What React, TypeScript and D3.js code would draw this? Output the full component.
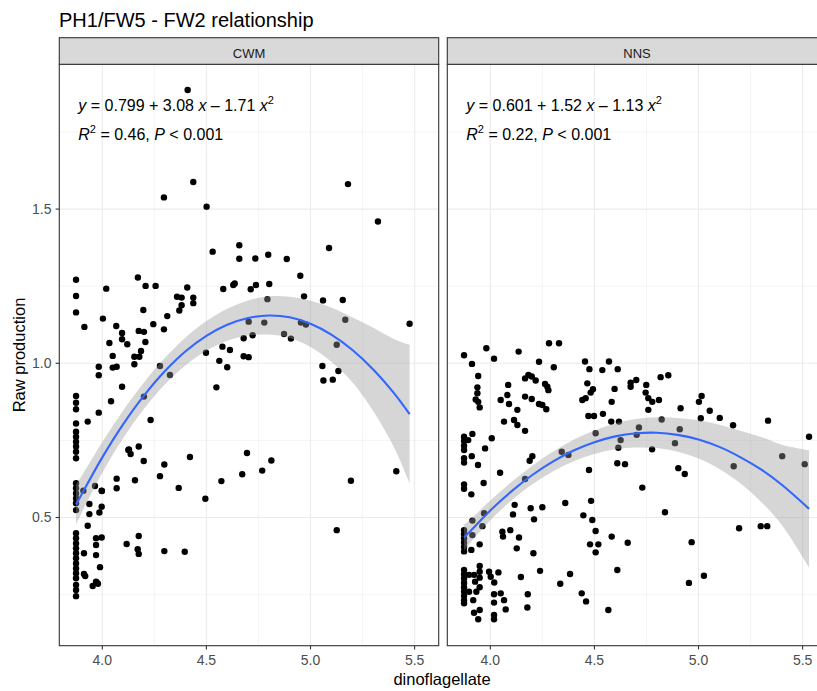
import React from "react";
import * as d3 from "d3";

const FONT = "'Liberation Sans', Arial, Helvetica, sans-serif";

const titleText = "PH1/FW5 - FW2 relationship";
const panelNames = ["CWM", "NNS"];
const xAxisTitle = "dinoflagellate";
const yAxisTitle = "Raw production";

const xDomain = [3.7935, 5.6157];
const yDomain = [0.0843, 1.9695];
const xMajorTicks = [4.0, 4.5, 5.0, 5.5];
const xMinorTicks = [4.25, 4.75, 5.25];
const yMajorTicks = [0.5, 1.0, 1.5];
const yMinorTicks = [0.25, 0.75, 1.25, 1.75];

const eqIntercept = ["0.799", "0.601"];
const eqLinear = ["3.08", "1.52"];
const eqQuad = ["1.71", "1.13"];
const eqR2 = ["0.46", "0.22"];
const eqP = ["0.001", "0.001"];

const minX = 3.874;
const cwmColumnY = [0.894, 0.872, 0.851, 0.805, 0.778, 0.762, 0.746, 0.73, 0.713, 0.692, 0.611, 0.595, 0.578, 0.562, 0.546, 0.524, 0.449, 0.433, 0.416, 0.4, 0.384, 0.368, 0.351, 0.335, 0.319, 0.303, 0.281, 0.265, 0.245];
const cwmPoints: [number, number][] = [
  [4.41, 1.886],
  [4.437, 1.588], [4.296, 1.538], [4.501, 1.508], [5.18, 1.581], [5.324, 1.46],
  [4.658, 1.383], [4.53, 1.362], [4.658, 1.339], [4.735, 1.34], [4.797, 1.352], [4.886, 1.338], [5.089, 1.374],
  [3.874, 1.271], [4.171, 1.278], [4.019, 1.242], [4.208, 1.251], [4.256, 1.251], [4.408, 1.246], [4.581, 1.241], [4.629, 1.254], [4.636, 1.259], [4.713, 1.24], [4.738, 1.254], [4.802, 1.257], [4.951, 1.284],
  [3.874, 1.218], [4.359, 1.216], [4.381, 1.213], [4.437, 1.213], [4.437, 1.195], [4.381, 1.188], [4.37, 1.171], [4.312, 1.153], [4.197, 1.173], [3.874, 1.165],
  [4.793, 1.208], [4.969, 1.217], [5.06, 1.204], [5.155, 1.205], [5.167, 1.141], [5.476, 1.128],
  [4.003, 1.145], [3.914, 1.118], [4.067, 1.121], [4.095, 1.098], [4.245, 1.127], [4.296, 1.11], [4.175, 1.105], [4.2, 1.102], [4.095, 1.078], [4.034, 1.066], [4.12, 1.062], [4.207, 1.069],
  [4.703, 1.135], [4.778, 1.132], [4.954, 1.132], [4.978, 1.126], [4.873, 1.095], [4.906, 1.08], [4.722, 1.091], [4.679, 1.081], [5.126, 1.06], [4.577, 1.054], [4.613, 1.043],
  [4.05, 1.024], [4.069, 0.989], [4.05, 0.986], [3.983, 0.989], [3.983, 0.961], [4.154, 1.021], [4.178, 1.021], [4.154, 0.997], [4.186, 1.04],
  [4.095, 0.924], [4.042, 0.877], [4.2, 0.892], [3.983, 0.84], [3.93, 0.811], [4.232, 0.816], [4.277, 0.991], [4.325, 0.962], [4.498, 1.034], [4.562, 1.008], [4.6, 0.987], [4.679, 1.023], [4.703, 1.02], [4.548, 0.922],
  [5.057, 0.991], [5.062, 0.944], [5.107, 0.947], [5.134, 0.975],
  [4.125, 0.719], [4.069, 0.626], [4.069, 0.595], [3.909, 0.587], [3.965, 0.602], [3.997, 0.587], [3.938, 0.544], [3.997, 0.535], [3.986, 0.516], [3.938, 0.511], [3.93, 0.473], [4.117, 0.414], [3.97, 0.433], [3.997, 0.435], [3.97, 0.411], [3.912, 0.384], [3.97, 0.378], [3.989, 0.339], [3.912, 0.317], [3.918, 0.31], [3.97, 0.292], [3.954, 0.278], [3.973, 0.289], [3.979, 0.285],
  [4.128, 0.721], [4.136, 0.706], [4.175, 0.73], [4.199, 0.683], [4.157, 0.621], [4.277, 0.634], [4.298, 0.672], [4.367, 0.596], [4.421, 0.696], [4.495, 0.561], [4.572, 0.618], [4.672, 0.64], [4.695, 0.709], [4.768, 0.652], [4.812, 0.685], [5.194, 0.619], [5.412, 0.65], [3.998, 0.586], [5.126, 0.459],
  [4.175, 0.44], [4.17, 0.397], [4.175, 0.382], [4.298, 0.391], [4.396, 0.389],
];

const nnsColumnY = [1.026, 0.762, 0.748, 0.733, 0.719, 0.692, 0.678, 0.607, 0.593, 0.459, 0.446, 0.432, 0.418, 0.404, 0.39, 0.33, 0.316, 0.302, 0.288, 0.274, 0.26, 0.246, 0.232, 0.222];
const nnsPoints: [number, number][] = [
  [3.912, 0.998], [3.981, 1.049], [4.018, 1.015], [4.136, 1.038], [4.234, 1.005], [4.282, 1.065], [4.33, 1.065], [4.305, 0.987], [4.455, 1.006], [4.57, 1.006], [4.476, 0.981], [4.538, 0.978], [4.612, 0.981],
  [3.942, 0.959], [3.938, 0.922], [3.938, 0.903], [3.93, 0.883], [3.949, 0.857], [3.942, 0.875],
  [4.086, 0.93], [4.082, 0.897], [4.05, 0.881], [4.09, 0.868], [4.066, 0.811], [4.114, 0.816], [4.13, 0.8], [4.13, 0.849], [4.167, 0.781],
  [4.167, 0.951], [4.183, 0.962], [4.218, 0.944], [4.199, 0.957], [4.167, 0.892], [4.199, 0.884], [4.234, 0.868], [4.269, 0.851], [4.25, 0.865], [4.263, 0.933], [4.279, 0.913], [4.274, 0.924],
  [4.442, 0.881], [4.458, 0.887], [4.482, 0.905], [4.493, 0.916], [4.466, 0.935], [4.471, 0.829], [4.498, 0.829], [4.541, 0.836], [4.583, 0.875], [4.597, 0.917], [4.581, 0.811], [4.618, 0.811],
  [4.674, 0.937], [4.701, 0.946], [4.674, 0.924], [4.749, 0.93], [4.746, 0.905], [4.759, 0.887], [4.778, 0.875], [4.81, 0.881], [4.759, 0.849], [4.818, 0.955], [4.855, 0.961],
  [4.714, 0.792], [4.703, 0.768], [4.823, 0.818], [4.914, 0.854], [4.91, 0.786], [4.887, 0.741], [5.002, 0.875], [5.015, 0.894], [5.054, 0.846], [5.011, 0.822], [5.102, 0.823], [5.166, 0.799], [5.334, 0.814], [5.531, 0.762], [5.402, 0.699], [5.51, 0.673], [5.169, 0.666], [4.903, 0.66], [4.934, 0.641], [4.777, 0.721], [4.626, 0.751], [4.615, 0.726], [4.61, 0.676], [4.647, 0.673], [4.506, 0.773], [4.474, 0.654], [4.343, 0.713], [4.375, 0.703], [4.189, 0.684], [4.202, 0.699], [4.167, 0.625], [4.047, 0.645], [4.007, 0.757], [3.975, 0.724], [3.914, 0.771], [3.894, 0.751],
  [3.911, 0.699], [3.941, 0.67], [3.909, 0.575], [3.968, 0.612], [4.484, 0.554], [4.447, 0.507], [4.49, 0.492], [4.36, 0.547], [4.117, 0.541], [4.109, 0.51], [4.194, 0.53], [4.25, 0.533], [4.21, 0.494], [4.839, 0.517], [4.73, 0.597], [5.195, 0.465], [5.299, 0.472], [5.33, 0.472],
  [3.97, 0.514], [3.914, 0.49], [3.962, 0.472], [3.914, 0.443], [3.909, 0.395], [3.949, 0.413], [4.058, 0.454], [4.061, 0.438], [4.096, 0.459], [4.138, 0.435], [4.127, 0.4], [4.207, 0.384], [4.506, 0.456], [4.583, 0.438], [4.479, 0.413], [4.519, 0.413], [4.506, 0.387], [4.66, 0.418], [4.967, 0.42],
  [4.61, 0.33], [4.383, 0.317], [4.336, 0.285], [4.239, 0.327], [4.147, 0.307], [4.039, 0.322], [3.994, 0.324], [4.002, 0.308], [4.019, 0.289], [4.05, 0.254], [4.018, 0.251], [4.066, 0.232], [4.018, 0.224], [4.074, 0.202], [4.018, 0.184], [4.018, 0.17], [4.18, 0.251], [4.178, 0.208], [4.439, 0.254], [4.46, 0.228], [4.567, 0.2], [4.954, 0.288], [5.026, 0.311],
  [3.922, 0.191], [3.942, 0.17], [3.949, 0.2], [3.918, 0.232], [3.949, 0.343], [3.949, 0.324], [3.949, 0.305], [3.949, 0.274], [3.922, 0.314], [3.927, 0.292], [3.933, 0.259], [3.898, 0.314], [3.898, 0.259],
];

// fitted quadratic curves with confidence bands
const cwmFitX = [3.874, 3.9, 4.0, 4.1, 4.2, 4.3, 4.4, 4.5, 4.6, 4.7, 4.8, 4.9, 5.0, 5.1, 5.2, 5.3, 5.4, 5.476];
const cwmFitY = [0.542, 0.574, 0.695, 0.802, 0.895, 0.974, 1.039, 1.089, 1.125, 1.147, 1.155, 1.149, 1.128, 1.093, 1.044, 0.981, 0.904, 0.835];
const cwmFitHalf = [0.065, 0.06, 0.05, 0.045, 0.043, 0.043, 0.045, 0.048, 0.052, 0.057, 0.062, 0.067, 0.075, 0.088, 0.105, 0.135, 0.175, 0.225];

const nnsFitX = [3.874, 3.9, 4.0, 4.1, 4.2, 4.3, 4.4, 4.5, 4.6, 4.7, 4.8, 4.9, 5.0, 5.1, 5.2, 5.3, 5.4, 5.531];
const nnsFitY = [0.435, 0.453, 0.523, 0.584, 0.637, 0.681, 0.717, 0.744, 0.763, 0.773, 0.775, 0.768, 0.753, 0.729, 0.696, 0.656, 0.606, 0.528];
const nnsFitHalf = [0.042, 0.038, 0.032, 0.03, 0.03, 0.032, 0.035, 0.038, 0.042, 0.046, 0.05, 0.055, 0.062, 0.072, 0.085, 0.105, 0.13, 0.19];

type Fit = { x: number; y: number; h: number };

export default function App() {
  const W = 817, H = 691;
  const panelTop = 64.3, panelBottom = 645.7, stripTop = 37.7;
  const panelLefts = [59.3, 447.3];
  const panelWidth = 379.4;

  const y = d3.scaleLinear().domain(yDomain).range([panelBottom, panelTop]);

  const panelData = [
    {
      points: [...cwmColumnY.map((v) => [minX, v] as [number, number]), ...cwmPoints],
      fit: cwmFitX.map((x, i) => ({ x, y: cwmFitY[i], h: cwmFitHalf[i] })),
    },
    {
      points: [...nnsColumnY.map((v) => [minX, v] as [number, number]), ...nnsPoints],
      fit: nnsFitX.map((x, i) => ({ x, y: nnsFitY[i], h: nnsFitHalf[i] })),
    },
  ];

  const grid = "#EBEBEB";
  const dark = "#333333";
  const tickCol = "#4D4D4D";

  return (
    <svg
      width={W}
      height={H}
      style={{ position: "absolute", left: 0, top: 0, display: "block", background: "#fff" }}
      fontFamily={FONT}
    >
      <rect x={0} y={0} width={W} height={H} fill="#fff" />
      <text x={59} y={26.5} fontSize={20} fill="#000">{titleText}</text>

      {panelNames.map((name, pi) => {
        const left = panelLefts[pi];
        const x = d3.scaleLinear().domain(xDomain).range([left, left + panelWidth]);
        const { points, fit } = panelData[pi];
        const area = d3
          .area<Fit>()
          .x((d) => x(d.x))
          .y0((d) => y(d.y - d.h))
          .y1((d) => y(d.y + d.h))
          .curve(d3.curveCatmullRom);
        const line = d3
          .line<Fit>()
          .x((d) => x(d.x))
          .y((d) => y(d.y))
          .curve(d3.curveCatmullRom);
        const tx = left + 19;
        return (
          <g key={name}>
            <rect x={left} y={panelTop} width={panelWidth} height={panelBottom - panelTop} fill="#fff" />
            {xMinorTicks.map((t) => (
              <line key={"xm" + t} x1={x(t)} x2={x(t)} y1={panelTop} y2={panelBottom} stroke={grid} strokeWidth={0.55} />
            ))}
            {yMinorTicks.map((t) => (
              <line key={"ym" + t} x1={left} x2={left + panelWidth} y1={y(t)} y2={y(t)} stroke={grid} strokeWidth={0.55} />
            ))}
            {xMajorTicks.map((t) => (
              <line key={"xM" + t} x1={x(t)} x2={x(t)} y1={panelTop} y2={panelBottom} stroke={grid} strokeWidth={1.1} />
            ))}
            {yMajorTicks.map((t) => (
              <line key={"yM" + t} x1={left} x2={left + panelWidth} y1={y(t)} y2={y(t)} stroke={grid} strokeWidth={1.1} />
            ))}

            <text x={tx} y={111} fontSize={16} fill="#000">
              <tspan fontStyle="italic">y</tspan>
              <tspan>{" = " + eqIntercept[pi] + " + " + eqLinear[pi] + " "}</tspan>
              <tspan fontStyle="italic">x</tspan>
              <tspan>{" \u2013 " + eqQuad[pi] + " "}</tspan>
              <tspan fontStyle="italic">x</tspan>
              <tspan fontSize={11} dy={-7}>2</tspan>
            </text>
            <text x={tx} y={140} fontSize={16} fill="#000">
              <tspan fontStyle="italic">R</tspan>
              <tspan fontSize={11} dy={-7}>2</tspan>
              <tspan dy={7}>{" = " + eqR2[pi] + ", "}</tspan>
              <tspan fontStyle="italic">P</tspan>
              <tspan>{" < " + eqP[pi]}</tspan>
            </text>

            {points.map((p, i) => (
              <circle key={i} cx={x(p[0])} cy={y(p[1])} r={3.2} fill="#000" />
            ))}
            <path d={area(fit) || ""} fill="#999999" fillOpacity={0.4} />
            <path d={line(fit) || ""} fill="none" stroke="#3366FF" strokeWidth={2.1} />

            <rect x={left} y={panelTop} width={panelWidth} height={panelBottom - panelTop} fill="none" stroke={dark} strokeWidth={1.1} />
            <rect x={left} y={stripTop} width={panelWidth} height={panelTop - stripTop} fill="#D9D9D9" stroke={dark} strokeWidth={1.1} />
            <text x={left + panelWidth / 2} y={58.3} fontSize={13} fill="#1A1A1A" textAnchor="middle">{name}</text>

            {xMajorTicks.map((t) => (
              <g key={"xt" + t}>
                <line x1={x(t)} x2={x(t)} y1={panelBottom} y2={panelBottom + 3.7} stroke={dark} strokeWidth={1.1} />
                <text x={x(t)} y={665} fontSize={14} fill={tickCol} textAnchor="middle">{t.toFixed(1)}</text>
              </g>
            ))}
          </g>
        );
      })}

      {yMajorTicks.map((t) => (
        <g key={"yt" + t}>
          <line x1={panelLefts[0] - 3.7} x2={panelLefts[0]} y1={y(t)} y2={y(t)} stroke={dark} strokeWidth={1.1} />
          <text x={51.5} y={y(t)} dy="0.35em" fontSize={14} fill={tickCol} textAnchor="end">{t.toFixed(1)}</text>
        </g>
      ))}

      <text x={442} y={685} fontSize={16.5} fill="#000" textAnchor="middle">{xAxisTitle}</text>
      <text transform={`translate(25,${(panelTop + panelBottom) / 2}) rotate(-90)`} fontSize={16.5} fill="#000" textAnchor="middle">{yAxisTitle}</text>
    </svg>
  );
}
